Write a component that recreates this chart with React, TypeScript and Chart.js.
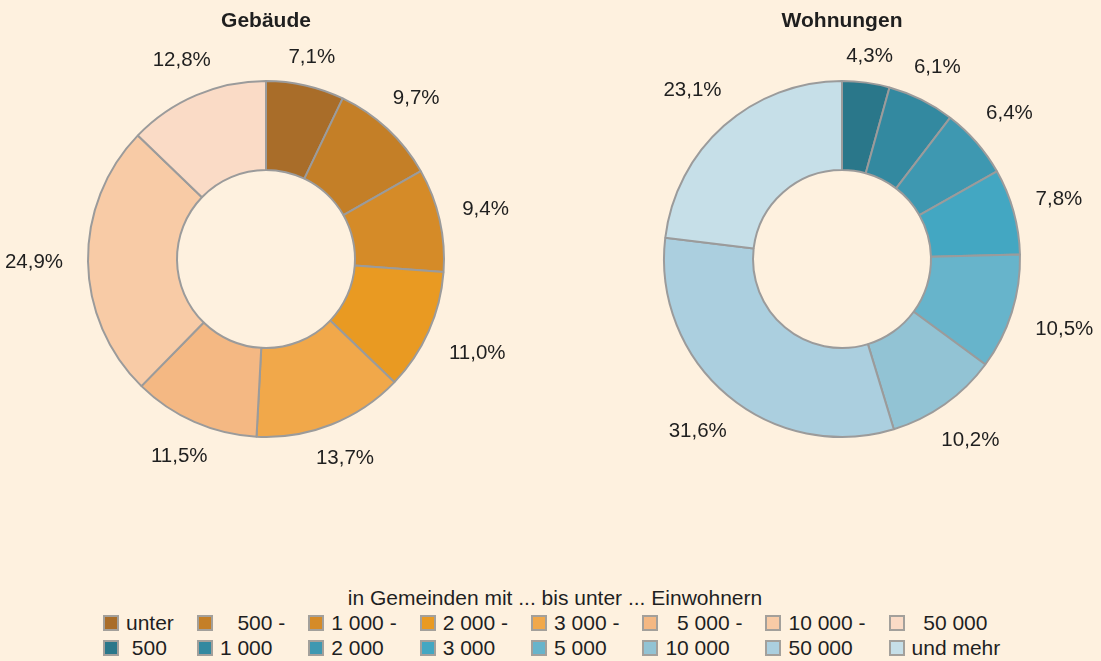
import React, { useEffect, useRef } from 'react';
import { Chart, registerables } from 'chart.js';

Chart.register(...registerables);

// ---- data ----
const legendCaption = 'in Gemeinden mit ... bis unter ... Einwohnern';
const classFrom = ['unter', '   500 -', '1 000 -', '2 000 -', '3 000 -', '  5 000 -', '10 000 -', '  50 000'];
const classTo = [' 500', '1 000', '2 000', '3 000', '5 000', '10 000', '50 000', 'und mehr'];

const gebaeudeTitle = 'Gebäude';
const gebaeudeValues = [7.1, 9.7, 9.4, 11.0, 13.7, 11.5, 24.9, 12.8];
const wohnungenTitle = 'Wohnungen';
const wohnungenValues = [4.3, 6.1, 6.4, 7.8, 10.5, 10.2, 31.6, 23.1];

// ---- styles ----
const gebaeudeColors = ['#A96D29', '#C47F27', '#D58B28', '#E99A22', '#F1A84A', '#F4B883', '#F8CBA6', '#FADBC6'];
const wohnungenColors = ['#2A778A', '#3389A0', '#3E98B1', '#43A7C2', '#67B4CB', '#92C3D4', '#ABCFDF', '#C6DFE8'];
const FONT = '"Liberation Sans", Arial, Helvetica, sans-serif';
const BG = '#FEF1DF';
const TEXT = '#1f1f1f';
const BORDER = '#9b9b9b';

const fmt = (v: number) => v.toFixed(1).replace('.', ',') + '%';

function makeLabelPlugin(title: string) {
  return {
    id: 'donutLabels',
    afterDatasetsDraw(chart: any) {
      const ctx = chart.ctx as CanvasRenderingContext2D;
      const meta = chart.getDatasetMeta(0);
      const data = chart.data.datasets[0].data as number[];
      ctx.save();
      ctx.fillStyle = TEXT;
      ctx.textAlign = 'center';
      ctx.textBaseline = 'middle';
      ctx.font = `20.5px ${FONT}`;
      meta.data.forEach((arc: any, i: number) => {
        const p = arc.getProps(['x', 'y', 'startAngle', 'endAngle', 'outerRadius'], true);
        const mid = (p.startAngle + p.endAngle) / 2;
        const text = fmt(data[i]);
        const w = ctx.measureText(text).width;
        const c = Math.cos(mid);
        const s = Math.sin(mid);
        const R = p.outerRadius + 12 + Math.abs(c) * w * 0.72 + Math.abs(s) * 10;
        ctx.fillText(text, p.x + c * R, p.y + s * R);
      });
      const first = meta.data[0] as any;
      ctx.font = `bold 21px ${FONT}`;
      ctx.fillText(title, first.x, 21);
      ctx.restore();
    },
  };
}

function Donut(props: { values: number[]; colors: string[]; title: string; left: number; width: number; height: number }) {
  const ref = useRef<HTMLCanvasElement>(null);
  useEffect(() => {
    const chart = new Chart(ref.current as HTMLCanvasElement, {
      type: 'doughnut',
      data: {
        labels: classTo,
        datasets: [
          {
            data: props.values,
            backgroundColor: props.colors,
            borderColor: BORDER,
            borderWidth: 2,
          },
        ],
      },
      options: {
        responsive: false,
        animation: false,
        radius: 178,
        cutout: '50%',
        layout: { padding: 0 },
        plugins: {
          legend: { display: false },
          title: { display: false },
          tooltip: { enabled: false },
        },
      } as any,
      plugins: [makeLabelPlugin(props.title)],
    });
    return () => chart.destroy();
  }, []);
  return (
    <canvas
      ref={ref}
      width={props.width}
      height={props.height}
      style={{ position: 'absolute', left: props.left, top: 0, width: props.width, height: props.height }}
    />
  );
}

function Box({ color }: { color: string }) {
  return (
    <span
      style={{
        display: 'inline-block',
        width: 16,
        height: 16,
        boxSizing: 'border-box',
        border: '2px solid #a3a09b',
        background: color,
        marginRight: 7,
        verticalAlign: 'middle',
        position: 'relative',
        top: -1,
      }}
    />
  );
}

export default function App() {
  return (
    <div
      style={{
        position: 'fixed',
        left: 0,
        top: 0,
        width: 1101,
        height: 661,
        background: BG,
        overflow: 'hidden',
        fontFamily: FONT,
        color: TEXT,
      }}
    >
      <Donut values={gebaeudeValues} colors={gebaeudeColors} title={gebaeudeTitle} left={0} width={532} height={518} />
      <Donut values={wohnungenValues} colors={wohnungenColors} title={wohnungenTitle} left={583} width={518} height={518} />
      <div
        style={{
          position: 'absolute',
          left: 0,
          width: 1110,
          top: 584.5,
          textAlign: 'center',
          fontSize: 21,
          lineHeight: '25px',
          whiteSpace: 'pre',
        }}
      >
        {legendCaption}
      </div>
      <div style={{ position: 'absolute', left: 103, top: 609.5, display: 'flex', gap: 23 }}>
        {classFrom.map((t, i) => (
          <div key={i} style={{ fontSize: 21, lineHeight: '25px', whiteSpace: 'pre' }}>
            <div>
              <Box color={gebaeudeColors[i]} />
              {t}
            </div>
            <div>
              <Box color={wohnungenColors[i]} />
              {classTo[i]}
            </div>
          </div>
        ))}
      </div>
    </div>
  );
}
